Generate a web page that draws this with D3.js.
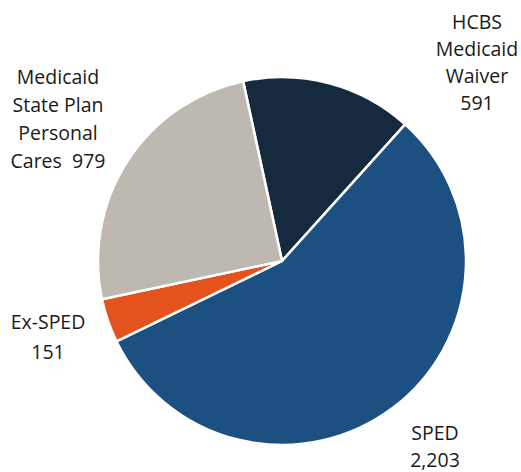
<!DOCTYPE html>
<html>
<head>
<meta charset="utf-8">
<script src="https://d3js.org/d3.v7.min.js"></script>
<style>
  body { margin: 0; background: #fff; }
  text { font-family: "Open Sans", "Noto Sans", sans-serif; fill: #1a1a1a; }
</style>
</head>
<body>
<script>
// data
var categories = ["HCBS Medicaid Waiver", "SPED", "Ex-SPED", "Medicaid State Plan Personal Cares"];
var values = [591, 2203, 151, 979];
var labelLines = [
  ["HCBS", "Medicaid", "Waiver", "591"],
  ["SPED", "2,203"],
  ["Ex-SPED", "151"],
  ["Medicaid", "State Plan", "Personal", "Cares\u00a0\u00a0979"]
];

var width = 521, height = 472;
var cx = 282, cy = 261, radius = 184;
var colors = ["#15293f", "#1c5081", "#e4521d", "#bdb9b0"];
// where each label block sits (centre x, first line y), line spacing
var labelPos = [[477, 22], [435, 433], [48, 322], [58, 77]];
var lineGap = [27, 27, 30, 28];

var svg = d3.select('body').append('svg')
  .attr('width', width).attr('height', height);

var start = -12.2 * Math.PI / 180;
var pie = d3.pie().sort(null).value(function(d){ return d; })
  .startAngle(start).endAngle(start + 2 * Math.PI);
var arc = d3.arc().innerRadius(0).outerRadius(radius);

svg.append('g').attr('transform', 'translate(' + cx + ',' + cy + ')')
  .selectAll('path')
  .data(pie(values)).enter().append('path')
  .attr('d', arc)
  .attr('fill', function(d, i){ return colors[i]; })
  .attr('stroke', '#fff')
  .attr('stroke-width', 2.5)
  .attr('stroke-linejoin', 'round');

// labels
categories.forEach(function(c, i) {
  var t = svg.append('text')
    .attr('text-anchor', 'middle')
    .attr('font-size', '19.5px');
  labelLines[i].forEach(function(line, j) {
    t.append('tspan')
      .attr('x', labelPos[i][0])
      .attr('y', labelPos[i][1] + j * lineGap[i])
      .attr('dy', '0.35em')
      .text(line);
  });
});
</script>
</body>
</html>
